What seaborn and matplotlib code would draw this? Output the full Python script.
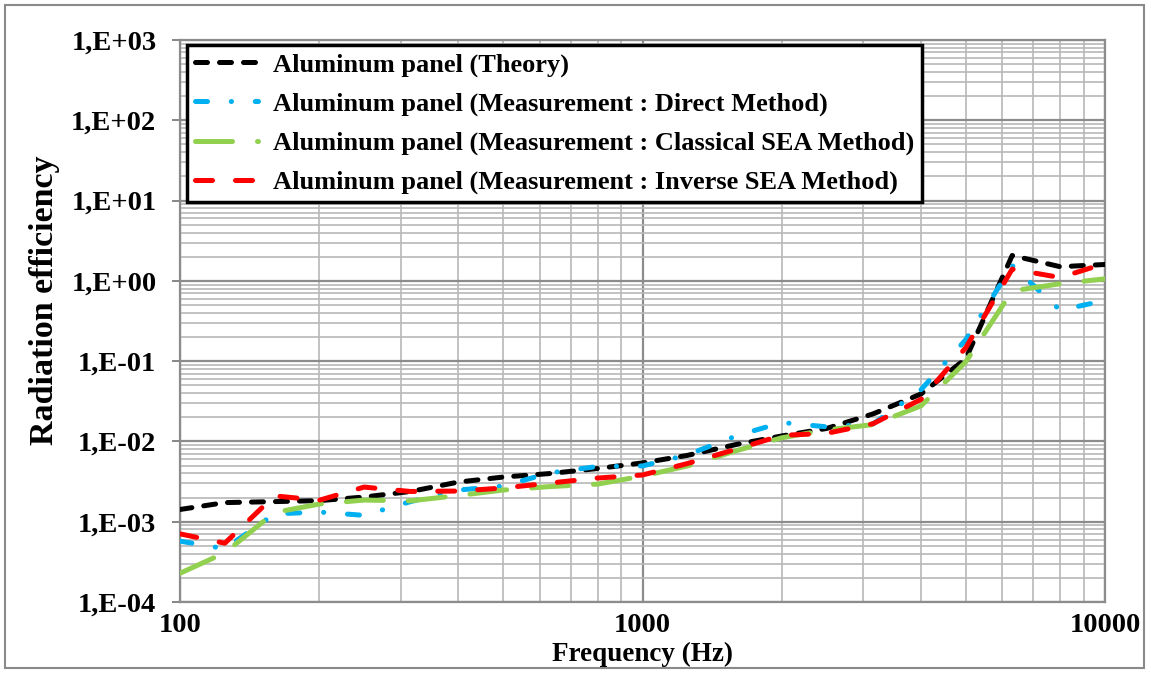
import math
import matplotlib
matplotlib.use("Agg")
import matplotlib.pyplot as plt
import seaborn as sns
from matplotlib.ticker import FixedLocator, LogLocator, FuncFormatter, NullFormatter
from matplotlib.patches import Rectangle

# One-third octave band centre frequencies (Hz)
freq_hz = [100, 125, 160, 200, 250, 315, 400, 500, 630, 800, 1000,
           1250, 1600, 2000, 2500, 3150, 4000, 5000, 6300, 8000, 10000]

# Radiation efficiency of the aluminum panel
theory = [1.42e-3, 1.73e-3, 1.78e-3, 1.83e-3, 2.03e-3, 2.38e-3, 3.12e-3,
          3.60e-3, 3.98e-3, 4.60e-3, 5.40e-3, 6.70e-3, 9.20e-3, 1.17e-2,
          1.45e-2, 2.20e-2, 3.90e-2, 1.07e-1, 2.07, 1.50, 1.60]
direct = [5.73e-4, 4.60e-4, 1.25e-3, 1.32e-3, 1.20e-3, 1.78e-3, 2.48e-3,
          2.78e-3, 4.05e-3, 4.88e-3, 4.95e-3, 6.80e-3, 1.18e-2, 1.72e-2,
          1.52e-2, 1.65e-2, 4.40e-2, 1.85e-1, 1.55, 0.43, 0.57]
classical = [2.28e-4, 4.10e-4, 1.30e-3, 1.66e-3, 1.86e-3, 1.82e-3, 2.12e-3,
             2.48e-3, 2.74e-3, 2.94e-3, 3.70e-3, 4.95e-3, 7.70e-3, 1.11e-2,
             1.39e-2, 1.62e-2, 2.77e-2, 9.80e-2, 0.75, 0.92, 1.06]
inverse = [7.06e-4, 5.40e-4, 2.10e-3, 1.85e-3, 2.70e-3, 2.38e-3, 2.41e-3,
           2.63e-3, 3.03e-3, 3.50e-3, 3.82e-3, 5.30e-3, 8.05e-3, 1.19e-2,
           1.26e-2, 1.66e-2, 3.34e-2, 1.47e-1, 1.40, 1.10, 1.65]

# Axis decades
x_decades = [100, 1000, 10000]
y_decades = [1e-4, 1e-3, 1e-2, 1e-1, 1e0, 1e1, 1e2, 1e3]

series_labels = [
    "Aluminum panel (Theory)",
    "Aluminum panel (Measurement : Direct Method)",
    "Aluminum panel (Measurement : Classical SEA Method)",
    "Aluminum panel (Measurement : Inverse SEA Method)",
]
series_colors = ["#000000", "#00B0F0", "#92D050", "#FF0000"]
series_dashes = [(2.4, 2.4), (2.4, 4.75, 0.05, 4.75), (7.4, 5.0), (3.4, 4.6)]

plt.rcParams["font.family"] = ["Liberation Serif", "DejaVu Serif"]
plt.rcParams["font.weight"] = "bold"

W, H = 1151, 673
fig = plt.figure(figsize=(W / 100, H / 100), dpi=100)
left, right, top, bottom = 180, 1105, 40, 602
ax = fig.add_axes([left / W, 1 - bottom / H, (right - left) / W, (bottom - top) / H])

for values, label, color, dash in zip([theory, direct, classical, inverse],
                                      series_labels, series_colors, series_dashes):
    sns.lineplot(x=freq_hz, y=values, ax=ax, color=color, label=label,
                 linewidth=3.6, linestyle=(0, dash),
                 dash_capstyle="round", solid_capstyle="round", zorder=3)

ax.set_xscale("log")
ax.set_yscale("log")
ax.set_xlim(x_decades[0], x_decades[-1])
ax.set_ylim(y_decades[0], y_decades[-1])

ax.xaxis.set_major_locator(FixedLocator(x_decades))
ax.yaxis.set_major_locator(FixedLocator(y_decades))
ax.xaxis.set_minor_locator(LogLocator(base=10, subs=range(2, 10), numticks=30))
ax.yaxis.set_minor_locator(LogLocator(base=10, subs=range(2, 10), numticks=100))
ax.xaxis.set_minor_formatter(NullFormatter())
ax.yaxis.set_minor_formatter(NullFormatter())
ax.xaxis.set_major_formatter(FuncFormatter(lambda v, p: f"{v:.0f}"))


def sci_comma(v, pos):
    e = int(round(math.log10(v)))
    sign = "+" if e >= 0 else "-"
    return f"1,E{sign}{abs(e):02d}"


ax.yaxis.set_major_formatter(FuncFormatter(sci_comma))

ax.grid(which="major", color="#8c8c8c", linewidth=1.6, zorder=0)
ax.grid(which="minor", color="#b8b8b8", linewidth=1.2, zorder=0)
ax.set_axisbelow(True)

for s in ax.spines.values():
    s.set_color("#8c8c8c")
    s.set_linewidth(1.6)

ax.tick_params(axis="y", which="major", length=6, width=1.4, color="#868686",
               pad=11, labelsize=20.5)
ax.tick_params(axis="x", which="major", length=0, pad=8, labelsize=20.5)
ax.tick_params(which="minor", length=0)
for t in ax.get_xticklabels() + ax.get_yticklabels():
    t.set_fontweight("bold")

ax.set_xlabel("Frequency (Hz)", fontsize=19.5, fontweight="bold")
ax.set_ylabel("Radiation efficiency", fontsize=24.5, fontweight="bold")
ax.xaxis.set_label_coords(0.4995, -0.0712)
ax.yaxis.set_label_coords(-0.1297, 0.537)

leg = ax.legend(loc="upper left", bbox_to_anchor=(7 / 925, 1 - 5 / 562),
                borderaxespad=0, frameon=True, fancybox=False,
                edgecolor="black", framealpha=1, prop={"size": 19, "weight": "bold"},
                handlelength=2.4, handletextpad=0.55, labelspacing=0.58,
                borderpad=0.3)
leg.get_frame().set_linewidth(2.5)

# thin outer frame around the whole chart
fig.patches.append(Rectangle((5 / W, 5 / H), (1144 - 5) / W, (668 - 5) / H,
                             transform=fig.transFigure, fill=False,
                             edgecolor="#8a8a8a", linewidth=1.5))

fig.savefig("out.png", dpi=100)
